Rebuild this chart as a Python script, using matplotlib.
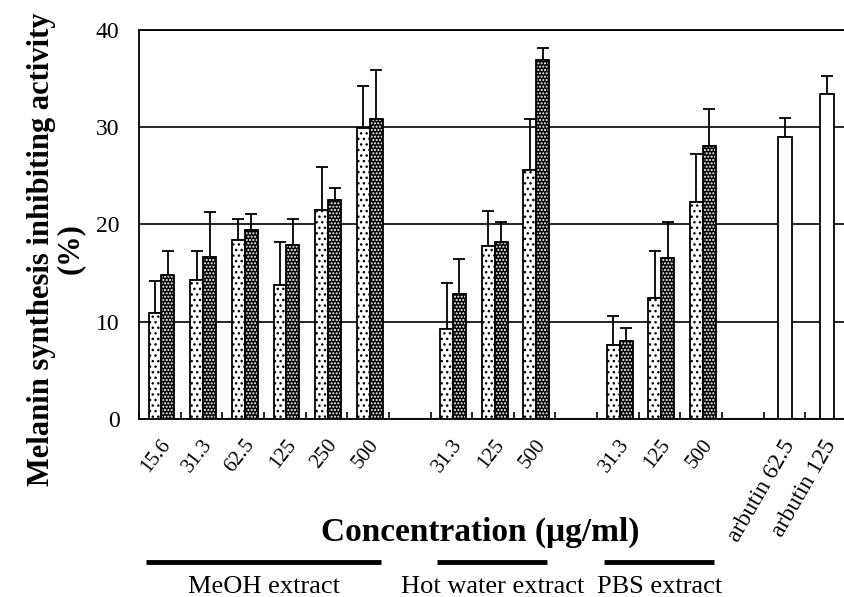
import matplotlib.pyplot as plt
import matplotlib.transforms as mtransforms
import numpy as np

plt.rcParams['font.family'] = ['Liberation Serif', 'DejaVu Serif']
plt.rcParams['hatch.linewidth'] = 1.0

# data
groups = ["MeOH extract", "Hot water extract", "PBS extract"]
group_sizes = [6, 3, 3]
conc_labels = ["15.6", "31.3", "62.5", "125", "250", "500",
               "31.3", "125", "500",
               "31.3", "125", "500"]
dotted = [10.9, 14.3, 18.4, 13.8, 21.5, 29.9,
          9.3, 17.8, 25.6,
          7.6, 12.4, 22.3]
dotted_err = [3.3, 3.0, 2.2, 4.4, 4.4, 4.3,
              4.7, 3.6, 5.2,
              3.0, 4.9, 4.9]
dark = [14.8, 16.7, 19.4, 17.9, 22.5, 30.8,
        12.8, 18.2, 36.9,
        8.0, 16.6, 28.1]
dark_err = [2.5, 4.6, 1.7, 2.7, 1.3, 5.1,
            3.6, 2.1, 1.2,
            1.4, 3.7, 3.8]
arbutin_labels = ["arbutin 62.5", "arbutin 125"]
arbutin = [29.0, 33.4]
arbutin_err = [1.9, 1.9]

# slot positions: one empty slot between groups
x = []
group_ranges = []
start = 0
for n in group_sizes:
    x.extend(range(start, start + n))
    group_ranges.append((start, start + n - 1))
    start += n + 1
x = np.array(x, dtype=float)
xa = np.arange(start, start + len(arbutin), dtype=float)

fig = plt.figure(figsize=(8.45, 5.97), dpi=100)
ax = fig.add_axes([0.1645, 0.2982, 0.8379, 0.6516])

w = 0.31
xd = x - w / 2 + 0.04
xk = x + w / 2 + 0.04

ax.errorbar(xd, dotted, yerr=[np.zeros(len(dotted)), dotted_err], fmt='none',
            ecolor='black', elinewidth=1.3, capsize=4.5, capthick=1.3, zorder=2)
ax.errorbar(xk, dark, yerr=[np.zeros(len(dark)), dark_err], fmt='none',
            ecolor='black', elinewidth=1.3, capsize=4.5, capthick=1.3, zorder=2)
ax.errorbar(xa + 0.02, arbutin, yerr=[np.zeros(len(arbutin)), arbutin_err], fmt='none',
            ecolor='black', elinewidth=1.3, capsize=4.5, capthick=1.3, zorder=2)

ax.bar(xd, dotted, w, facecolor='white', edgecolor='black', hatch='...',
       linewidth=1.3, zorder=3)
ax.bar(xk, dark, w, color='black', linewidth=0, zorder=3)
ax.bar(xk, dark, w, facecolor='none', edgecolor='white', hatch='.....',
       linewidth=0, zorder=3.1)
ax.bar(xk, dark, w, facecolor='none', edgecolor='black', linewidth=1.3, zorder=3.2)
ax.bar(xa + 0.02, arbutin, 0.34, facecolor='white', edgecolor='black',
       linewidth=1.3, zorder=3)

ax.set_xlim(-0.5, start + len(arbutin) - 0.5)
ax.set_ylim(0, 40)
ax.set_yticks([0, 10, 20, 30, 40])
ax.yaxis.grid(True, color='black', linewidth=1.2)
ax.set_axisbelow(True)
ax.spines['right'].set_visible(False)
for s in ['left', 'bottom', 'top']:
    ax.spines[s].set_linewidth(1.3)

ax.tick_params(axis='y', length=0, pad=14, labelsize=17)

tick_pos = list(x + 0.27) + list(xa + 0.24)
ax.set_xticks(tick_pos, conc_labels + arbutin_labels)
ax.tick_params(axis='x', which='major', length=0, pad=18, labelsize=15)
for i, lbl in enumerate(ax.get_xticklabels()):
    lbl.set_ha('right')
    lbl.set_va('baseline')
    lbl.set_rotation_mode('anchor')
    if i >= len(conc_labels):
        lbl.set_rotation(60)
        lbl.set_fontsize(17)
    else:
        lbl.set_rotation(52)
ax.set_xticks(np.arange(-0.5, start + len(arbutin), 1.0), minor=True)
ax.tick_params(axis='x', which='minor', direction='in', length=5, width=1.2)

fig.text(0.568, 0.109, "Concentration (\u03bcg/ml)", ha='center', va='center',
         fontsize=24, fontweight='bold')
fig.text(0.066, 0.583, "Melanin synthesis inhibiting activity\n(%)", rotation=90,
         ha='center', va='center', multialignment='center', linespacing=1.0,
         fontsize=22, fontweight='bold')

trans = mtransforms.blended_transform_factory(ax.transData, fig.transFigure)
for name, (a, b) in zip(groups, group_ranges):
    ax.plot([a - 0.34, b + 0.3], [0.0586, 0.0586], transform=trans, color='black',
            linewidth=3.5, clip_on=False, solid_capstyle='butt')
    ax.text((a + b) / 2, 0.016, name, transform=trans, ha='center', va='center',
            fontsize=19)

fig.savefig('out.png', dpi=100)
